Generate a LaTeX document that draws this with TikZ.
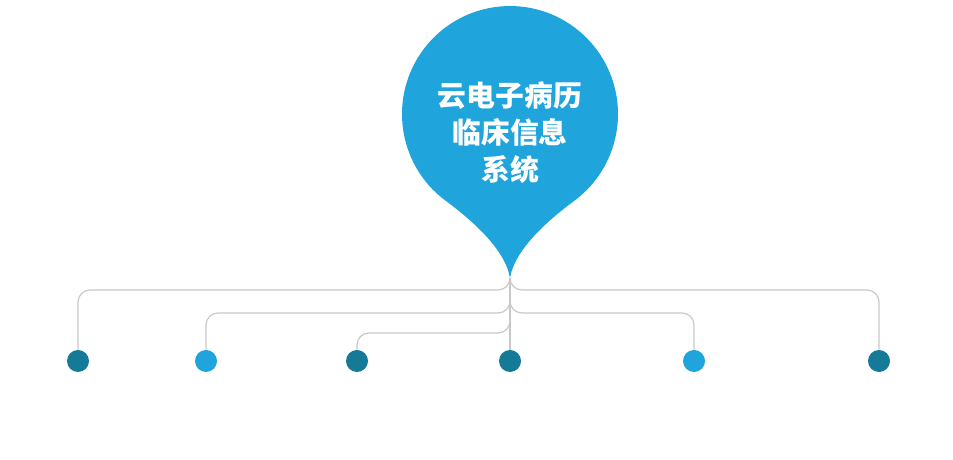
\documentclass[tikz,border=0pt]{standalone}
\usepackage{fontspec}
\newfontfamily\cjk{Noto Sans CJK SC}
\usepackage{tikz}

\definecolor{pinblue}{RGB}{31,164,220}
\definecolor{darkteal}{RGB}{21,122,152}
\definecolor{linegray}{RGB}{200,200,200}

\begin{document}
\begin{tikzpicture}[x=0.025cm,y=0.025cm]

      \useasboundingbox (0,0) rectangle (953,460);

      % the pin
      \coordinate (tip) at (510,182);
      \fill[pinblue] (tip) .. controls (505,212) and (469,242) .. (445,259.7)
        arc[start angle=233, end angle=-53, radius=108]
        .. controls (551,242) and (515,212) .. (tip);
      \node[text=white, align=center, font=\cjk\bfseries\fontsize{20.5}{26.3}\selectfont]
        (title) at (510,327) {云电子病历\\临床信息\\系统};

      \begin{scope}[every node/.style={circle,inner sep=0pt,minimum size=0.55cm}]
        \node[fill=darkteal] (d1) at (78,99) {};
        \node[fill=pinblue] (d2) at (206,99) {};
        \node[fill=darkteal] (d3) at (357,99) {};
        \node[fill=darkteal] (d4) at (510,99) {};
        \node[fill=pinblue] (d5) at (694,99) {};
        \node[fill=darkteal] (d6) at (879,99) {};
      \end{scope}

      \coordinate (j2) at (510,159);
      \coordinate (j3) at (510,139);

      \begin{scope}[every path/.style={draw=linegray,line width=0.85pt,rounded corners=0.3cm}]
        \path (tip) -- (d4);
        \path (tip) -- ++(0,-12) -| (d1);
        \path (tip) -- ++(0,-12) -| (d6);
        \path (j2) -- ++(0,-12) -| (d2);
        \path (j2) -- ++(0,-12) -| (d5);
        \path (j3) -- ++(0,-12) -| (d3);
      \end{scope}
    \end{tikzpicture}
\end{document}
